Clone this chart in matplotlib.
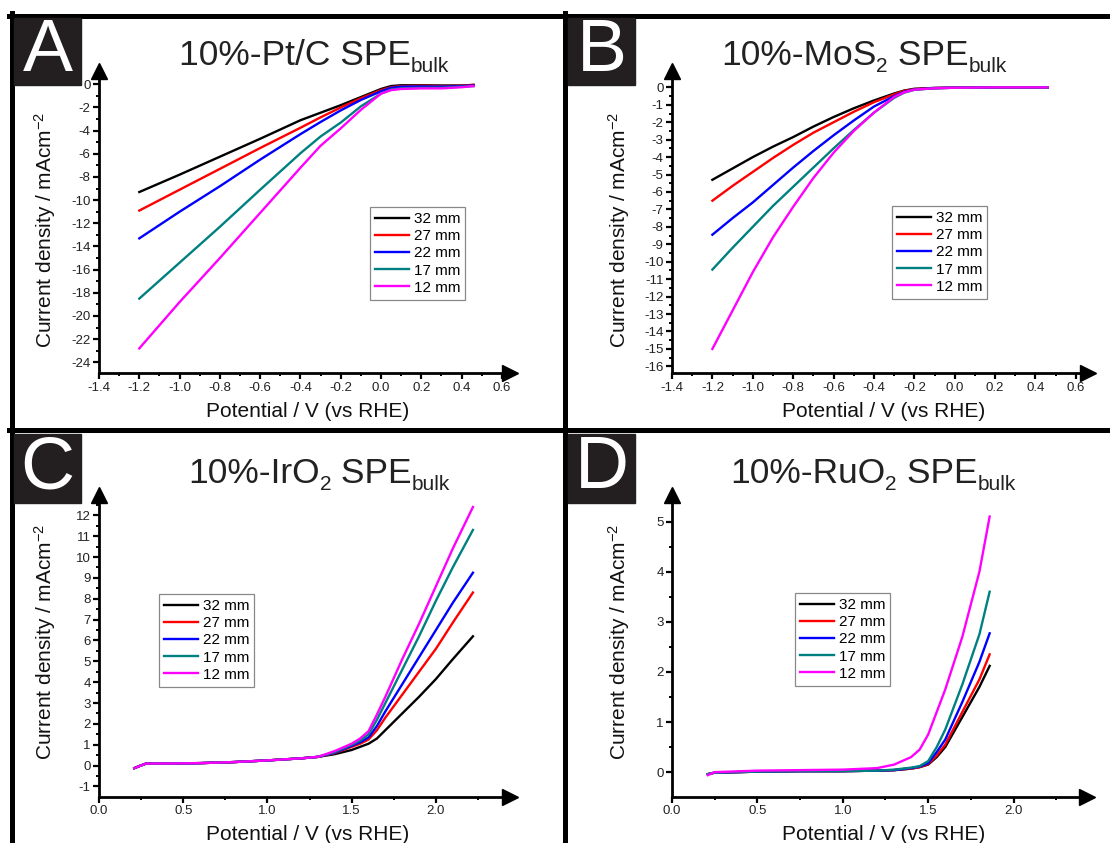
import matplotlib
matplotlib.use("Agg")
import matplotlib.pyplot as plt
from matplotlib.lines import Line2D
from matplotlib.patches import Rectangle
from matplotlib.ticker import MultipleLocator, FormatStrFormatter

plt.rcParams['font.family'] = ['Liberation Sans', 'DejaVu Sans']
plt.rcParams['mathtext.fontset'] = 'custom'
plt.rcParams['mathtext.rm'] = 'Liberation Sans'
plt.rcParams['mathtext.it'] = 'Liberation Sans:italic'
plt.rcParams['mathtext.bf'] = 'Liberation Sans:bold'
plt.rcParams['axes.unicode_minus'] = False

W, H = 1110, 843

labels = ["32 mm", "27 mm", "22 mm", "17 mm", "12 mm"]
colors = ["#000000", "#ff0000", "#0000ff", "#008080", "#ff00ff"]

# A: 10%-Pt/C
xa = [-1.2, -1.0, -0.8, -0.6, -0.4, -0.3, -0.2, -0.1, 0.0, 0.05, 0.1, 0.2, 0.3, 0.4, 0.46]
ya = [
    [-9.3, -7.8, -6.25, -4.7, -3.1, -2.45, -1.8, -1.1, -0.4, -0.15, -0.08, -0.08, -0.1, -0.1, -0.05],
    [-10.9, -9.1, -7.3, -5.5, -3.75, -2.85, -2.0, -1.2, -0.5, -0.25, -0.15, -0.12, -0.15, -0.12, -0.05],
    [-13.3, -11.0, -8.8, -6.5, -4.3, -3.25, -2.25, -1.35, -0.6, -0.3, -0.2, -0.18, -0.2, -0.15, -0.1],
    [-18.5, -15.4, -12.3, -9.1, -5.95, -4.5, -3.3, -1.9, -0.8, -0.45, -0.35, -0.3, -0.3, -0.2, -0.15],
    [-22.8, -18.8, -15.0, -11.1, -7.2, -5.3, -3.8, -2.2, -0.8, -0.5, -0.4, -0.35, -0.35, -0.25, -0.15],
]

# B: 10%-MoS2
xb = [-1.2, -1.1, -1.0, -0.9, -0.8, -0.7, -0.6, -0.5, -0.4, -0.3, -0.25, -0.2, -0.1, 0.0, 0.2, 0.46]
yb = [
    [-5.3, -4.65, -4.0, -3.4, -2.85, -2.25, -1.7, -1.2, -0.75, -0.35, -0.18, -0.08, -0.03, -0.02, 0.0, 0.0],
    [-6.5, -5.65, -4.85, -4.05, -3.3, -2.6, -2.0, -1.4, -0.85, -0.4, -0.2, -0.1, -0.04, -0.02, 0.0, 0.0],
    [-8.45, -7.5, -6.6, -5.6, -4.6, -3.65, -2.75, -1.9, -1.1, -0.5, -0.25, -0.12, -0.04, -0.02, 0.0, 0.0],
    [-10.45, -9.2, -8.0, -6.8, -5.7, -4.6, -3.5, -2.45, -1.45, -0.6, -0.3, -0.14, -0.05, -0.02, 0.0, 0.0],
    [-15.0, -12.8, -10.6, -8.6, -6.85, -5.2, -3.75, -2.5, -1.45, -0.55, -0.28, -0.13, -0.05, -0.02, 0.0, 0.0],
]

# C: 10%-IrO2
xc = [0.21, 0.24, 0.28, 0.4, 0.6, 0.8, 1.0, 1.2, 1.3, 1.4, 1.5, 1.55, 1.6, 1.65, 1.7, 1.8, 1.9, 2.0, 2.1, 2.22]
c_low = [-0.12, -0.02, 0.1, 0.1, 0.12, 0.17, 0.25, 0.35, 0.42]
yc = [
    c_low + [0.55, 0.75, 0.9, 1.05, 1.3, 1.7, 2.5, 3.3, 4.15, 5.1, 6.2],
    c_low + [0.6, 0.9, 1.05, 1.25, 1.7, 2.3, 3.4, 4.5, 5.6, 6.85, 8.3],
    c_low + [0.62, 0.95, 1.12, 1.35, 1.9, 2.6, 3.9, 5.2, 6.5, 7.8, 9.25],
    c_low + [0.65, 1.0, 1.2, 1.5, 2.2, 3.0, 4.6, 6.2, 7.9, 9.5, 11.3],
    c_low + [0.7, 1.05, 1.3, 1.65, 2.45, 3.3, 5.1, 6.8, 8.6, 10.4, 12.4],
]

# D: 10%-RuO2
xd = [0.21, 0.25, 0.5, 0.75, 1.0, 1.2, 1.3, 1.4, 1.45, 1.5, 1.55, 1.6, 1.7, 1.8, 1.86]
d_low = [-0.04, -0.01, 0.01, 0.02, 0.02, 0.03]
yd = [
    d_low + [0.04, 0.07, 0.1, 0.15, 0.3, 0.5, 1.1, 1.7, 2.12],
    d_low + [0.04, 0.07, 0.1, 0.16, 0.33, 0.55, 1.2, 1.85, 2.35],
    d_low + [0.04, 0.08, 0.11, 0.18, 0.4, 0.65, 1.4, 2.2, 2.77],
    d_low + [0.05, 0.09, 0.12, 0.22, 0.5, 0.85, 1.75, 2.75, 3.6],
    [-0.06, 0.0, 0.03, 0.04, 0.05, 0.08, 0.15, 0.3, 0.45, 0.75, 1.2, 1.65, 2.7, 4.0, 5.1],
]


def rect(l, r, t, b):
    return [l / W, 1 - b / H, (r - l) / W, (b - t) / H]


def fx(px):
    return px / W


def fy(py):
    return 1 - py / H


fig = plt.figure(figsize=(W / 100, H / 100), dpi=100)
renderer = fig.canvas.get_renderer()


def title_parts(cx, base, parts):
    # parts: list of (text, is_subscript); laid out left to right, then centred
    texts = []
    x = 0.0
    for s, sub in parts:
        fs = 15 if sub else 25.5
        dy = 7 if sub else 0
        t = fig.text(fx(x), fy(base + dy), s, fontsize=fs, color="#222222",
                     ha="left", va="baseline")
        bb = t.get_window_extent(renderer)
        texts.append((t, x))
        x += bb.width
    shift = cx - x / 2
    for t, x0 in texts:
        t.set_x(fx(x0 + shift))


panels = [
    dict(letter="A", title=[("10%-Pt/C SPE", False), ("bulk", True)], x=xa, ys=ya,
         box=(99, 510, 71, 373.3), xlim=(-1.4, 0.64), ylim=(-24.95, 1.15),
         xmaj=0.2, xmin=0.1, ymaj=2, ymin=1, xt=(-1.4, 0.6),
         yt=(-24, 0), leg=(370, 207), lb=(14, 81, 18, 85), tt=(314, 65),
         xl=(308, 417), yl=(45, 230)),
    dict(letter="B", title=[("10%-MoS", False), ("2", True), (" SPE", False), ("bulk", True)],
         x=xb, ys=yb,
         box=(672, 1088, 71, 373.3), xlim=(-1.4, 0.66), ylim=(-16.4, 0.94),
         xmaj=0.2, xmin=0.1, ymaj=1, ymin=0.5, xt=(-1.4, 0.6),
         yt=(-16, 0), leg=(892, 206), lb=(568, 635, 18, 85), tt=(864, 65),
         xl=(884, 417), yl=(619, 230)),
    dict(letter="C", title=[("10%-IrO", False), ("2", True), (" SPE", False), ("bulk", True)],
         x=xc, ys=yc,
         box=(99, 510, 494.5, 796.7), xlim=(0, 2.44), ylim=(-1.49, 13.0),
         xmaj=0.5, xmin=0.25, ymaj=1, ymin=0.5, xt=(0, 2.0),
         yt=(-1, 12), leg=(159, 594), lb=(14, 81, 434, 503), tt=(319, 483),
         xl=(308, 840), yl=(45, 642)),
    dict(letter="D", title=[("10%-RuO", False), ("2", True), (" SPE", False), ("bulk", True)],
         x=xd, ys=yd,
         box=(672, 1087, 494.5, 796.7), xlim=(0, 2.43), ylim=(-0.49, 5.54),
         xmaj=0.5, xmin=0.25, ymaj=1, ymin=0.5, xt=(0, 2.0),
         yt=(0, 5), leg=(795, 593), lb=(568, 635, 434, 503), tt=(873, 483),
         xl=(884, 840), yl=(619, 642)),
]

for p in panels:
    ax = fig.add_axes(rect(*p["box"]))
    for y, c, lab in zip(p["ys"], colors, labels):
        ax.plot(p["x"], y, color=c, lw=1.7, label=lab)
    for s in ["top", "right"]:
        ax.spines[s].set_visible(False)
    for s in ["left", "bottom"]:
        ax.spines[s].set_linewidth(2.0)
    ax.xaxis.set_major_locator(MultipleLocator(p["xmaj"]))
    ax.xaxis.set_minor_locator(MultipleLocator(p["xmin"]))
    ax.yaxis.set_major_locator(MultipleLocator(p["ymaj"]))
    ax.yaxis.set_minor_locator(MultipleLocator(p["ymin"]))
    ax.set_xlim(*p["xlim"])
    ax.set_ylim(*p["ylim"])
    # only label ticks inside the printed range
    xt0, xt1 = p["xt"]
    yt0, yt1 = p["yt"]
    ax.set_xticks([t for t in ax.get_xticks() if xt0 - 1e-6 <= t <= xt1 + 1e-6])
    ax.set_yticks([t for t in ax.get_yticks() if yt0 - 1e-6 <= t <= yt1 + 1e-6])
    ax.xaxis.set_major_formatter(FormatStrFormatter("%.1f"))
    ax.yaxis.set_major_formatter(FormatStrFormatter("%d"))
    ax.set_xlim(*p["xlim"])
    ax.set_ylim(*p["ylim"])
    ax.tick_params(which="major", direction="out", length=4, width=1.6,
                   labelsize=9.5, labelcolor="#222222", pad=2)
    ax.tick_params(which="minor", direction="out", length=2.5, width=1.4)
    # arrow heads
    ax.plot(1, 0, ">", color="k", ms=12, transform=ax.transAxes, clip_on=False)
    ax.plot(0, 1, "^", color="k", ms=12, transform=ax.transAxes, clip_on=False)

    lx, ly = p["leg"]
    leg = ax.legend(loc="upper left", bbox_to_anchor=(fx(lx), fy(ly)),
                    bbox_transform=fig.transFigure, borderaxespad=0,
                    fontsize=11, handlelength=2.2, handletextpad=0.3,
                    labelspacing=0.2, borderpad=0.35, fancybox=False,
                    framealpha=1, edgecolor="#888888")
    leg.get_frame().set_linewidth(0.9)

    tx, ty = p["tt"]
    title_parts(tx, ty, p["title"])
    xx, xy = p["xl"]
    fig.text(fx(xx), fy(xy), "Potential / V (vs RHE)", ha="center",
             va="baseline", fontsize=15, color="#111111")
    yx, yy = p["yl"]
    fig.text(fx(yx), fy(yy), "Current density / mAcm$^{\\mathrm{-2}}$", ha="center",
             va="center", rotation=90, fontsize=15, color="#111111")

    l, r, t, b = p["lb"]
    fig.add_artist(Rectangle((fx(l), fy(b)), (r - l) / W, (b - t) / H,
                             transform=fig.transFigure, color="#231f20", zorder=5))
    fig.text(fx((l + r) / 2), fy((t + b) / 2), p["letter"], ha="center",
             va="center", fontsize=54, color="white", zorder=6)

# panel frame lines
lw = 3.6
fig.add_artist(Line2D([fx(9), 1], [fy(15.5), fy(15.5)], color="k", lw=lw))
fig.add_artist(Line2D([fx(9), 1], [fy(430.5), fy(430.5)], color="k", lw=lw))
fig.add_artist(Line2D([fx(11.5), fx(11.5)], [fy(13), 0], color="k", lw=lw))
fig.add_artist(Line2D([fx(564.5), fx(564.5)], [fy(13), 0], color="k", lw=lw))

fig.savefig("out.png", dpi=100)
